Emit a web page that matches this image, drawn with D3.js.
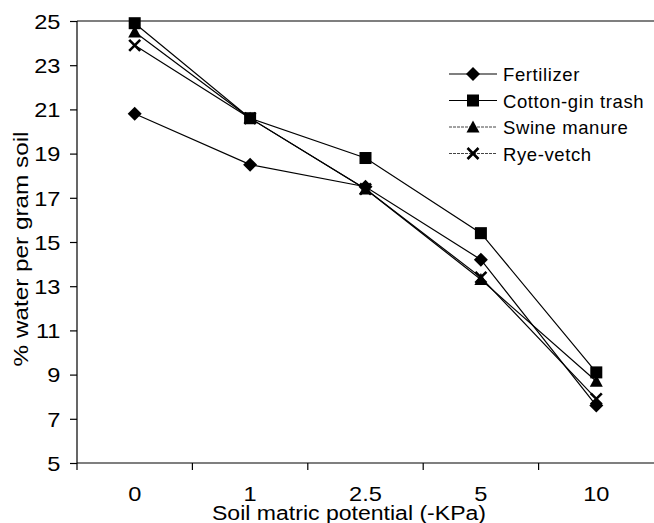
<!DOCTYPE html>
<html><head><meta charset="utf-8">
<script src="https://cdn.jsdelivr.net/npm/d3@7"></script>
<style>
body{margin:0;background:#fff}
svg{display:block}
text{font-family:"Liberation Sans",Arial,Helvetica,sans-serif;fill:#000}
</style>
</head><body>
<svg id="c" width="654" height="523"></svg>
<script>
// ---- data ----
const categories = ["0", "1", "2.5", "5", "10"];
const yTicks = [5, 7, 9, 11, 13, 15, 17, 19, 21, 23, 25];
const seriesNames = ["Fertilizer", "Cotton-gin trash", "Swine manure", "Rye-vetch"];
const fertilizer  = [20.8, 18.5, 17.5, 14.2, 7.6];
const cottonGin   = [24.9, 20.6, 18.8, 15.4, 9.1];
const swineManure = [24.5, 20.6, 17.4, 13.3, 8.7];
const ryeVetch    = [23.9, 20.6, 17.4, 13.4, 7.9];
const xTitle = "Soil matric potential (-KPa)";
const yTitle = "% water per gram soil";

const seriesValues = [fertilizer, cottonGin, swineManure, ryeVetch];
const markerTypes = ["diamond", "square", "triangle", "cross"];

const svg = d3.select("#c");
const L = 77, R = 654, T = 21, B = 463;

const x = d3.scaleBand().domain(categories).range([L, R]).paddingInner(0).paddingOuter(0);
const y = d3.scaleLinear().domain([5, 25]).range([B, T]);
const cx = c => x(c) + x.bandwidth() / 2;

// top frame line
svg.append("line").attr("x1", L).attr("x2", R).attr("y1", y(25)).attr("y2", y(25))
  .attr("stroke", "#000").attr("stroke-width", 1.2);

// y axis
const yAxis = svg.append("g").attr("transform", `translate(${L},0)`)
  .call(d3.axisLeft(y).tickValues(yTicks).tickSize(7).tickPadding(7).tickFormat(d3.format("d")));
yAxis.select(".domain").attr("stroke-width", 1.2).attr("d", `M0,${B + 7}V${T}`);
yAxis.selectAll(".tick line").attr("stroke-width", 1.2);
yAxis.selectAll(".tick text").attr("font-size", 20).attr("font-family", null)
  .attr("transform", "scale(1.18,1)").attr("dy", "0.36em");

// x axis
const xAxis = svg.append("g").attr("transform", `translate(0,${B})`)
  .call(d3.axisBottom(x).tickSize(0).tickPadding(0));
xAxis.select(".domain").attr("stroke-width", 1.2).attr("d", `M${L},0H${R}`);
xAxis.selectAll(".tick text").attr("font-size", 20).attr("font-family", null)
  .attr("y", 38).attr("dy", 0).attr("transform", "scale(1.18,1)");
// boundary ticks between categories
svg.append("g").selectAll("line").data(categories.slice(1)).join("line")
  .attr("x1", d => x(d)).attr("x2", d => x(d))
  .attr("y1", B).attr("y2", B + 7).attr("stroke", "#000").attr("stroke-width", 1.2);

// axis titles
svg.append("text").attr("x", 349).attr("y", 520).attr("text-anchor", "middle")
  .attr("font-size", 20).attr("textLength", 274).attr("lengthAdjust", "spacingAndGlyphs")
  .text(xTitle);
svg.append("text").attr("transform", "translate(28,249) rotate(-90)").attr("text-anchor", "middle")
  .attr("font-size", 20).attr("textLength", 235).attr("lengthAdjust", "spacingAndGlyphs")
  .text(yTitle);

// marker drawing
function drawMarker(g, type, px, py) {
  if (type === "diamond") {
    g.append("path").attr("d", `M${px},${py - 7}L${px + 7},${py}L${px},${py + 7}L${px - 7},${py}Z`).attr("fill", "#000");
  } else if (type === "square") {
    g.append("rect").attr("x", px - 6).attr("y", py - 6).attr("width", 12).attr("height", 12).attr("fill", "#000");
  } else if (type === "triangle") {
    g.append("path").attr("d", `M${px},${py - 6.5}L${px + 6.5},${py + 5.5}L${px - 6.5},${py + 5.5}Z`).attr("fill", "#000");
  } else {
    g.append("path").attr("d", `M${px - 5.5},${py - 5.5}L${px + 5.5},${py + 5.5}M${px + 5.5},${py - 5.5}L${px - 5.5},${py + 5.5}`)
      .attr("stroke", "#000").attr("stroke-width", 2.6).attr("fill", "none");
  }
}

const line = d3.line().x((d, i) => cx(categories[i])).y(d => y(d));
const plot = svg.append("g");
seriesValues.forEach((vals, s) => {
  plot.append("path").attr("d", line(vals)).attr("fill", "none")
    .attr("stroke", "#000").attr("stroke-width", 1.2);
});
seriesValues.forEach((vals, s) => {
  const g = plot.append("g");
  vals.forEach((v, i) => drawMarker(g, markerTypes[s], cx(categories[i]), y(v)));
});

// legend
const legend = svg.append("g");
seriesNames.forEach((name, i) => {
  const ly = 74 + i * 26.5;
  legend.append("line").attr("x1", 449).attr("x2", 497).attr("y1", ly).attr("y2", ly)
    .attr("stroke", i < 2 ? "#000" : "#444").attr("stroke-width", i < 2 ? 1.2 : 1)
    .attr("stroke-dasharray", i < 2 ? null : "3,1");
  drawMarker(legend.append("g"), markerTypes[i], 473, ly);
  legend.append("text").attr("x", 503).attr("y", ly + 7).attr("font-size", 18.5)
    .attr("letter-spacing", 0.6).text(name);
});
</script>
</body></html>
